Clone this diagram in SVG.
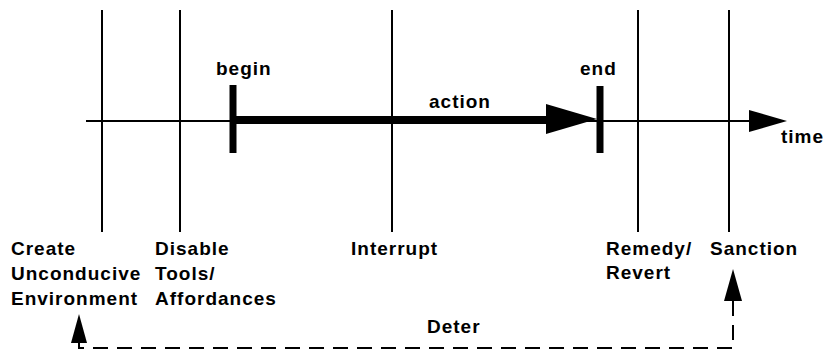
<svg xmlns="http://www.w3.org/2000/svg" width="825" height="351" viewBox="0 0 825 351">
<style>
.lbl{font-family:"Liberation Sans",Arial,sans-serif;font-weight:bold;font-size:19px;letter-spacing:1px;fill:#000}
.thin{stroke:#000;stroke-width:2;fill:none}
.dash{stroke:#000;stroke-width:2;fill:none;stroke-dasharray:15 9}
</style>
<rect width="825" height="351" fill="#fff"/>
<g id="connectors">
<line class="thin" x1="86" y1="121" x2="752" y2="121"/>
<polygon points="749,110 787,121 749,132" fill="#000"/>
<line class="thin" x1="102" y1="10" x2="102" y2="232"/>
<line class="thin" x1="180" y1="10" x2="180" y2="232"/>
<line class="thin" x1="392" y1="10" x2="392" y2="232"/>
<line class="thin" x1="638" y1="10" x2="638" y2="232"/>
<line class="thin" x1="729" y1="10" x2="729" y2="232"/>
<line x1="233" y1="120" x2="550" y2="120" stroke="#000" stroke-width="8"/>
<polygon points="546,104 597,119 546,134" fill="#000"/>
<line x1="233" y1="85" x2="233" y2="153" stroke="#000" stroke-width="7"/>
<line x1="600" y1="86" x2="600" y2="153" stroke="#000" stroke-width="7"/>
<path class="dash" d="M733,301 V348 H79"/>
<line class="thin" x1="79" y1="349" x2="79" y2="340"/>
<polygon points="71,343 79,314 87,343" fill="#000"/>
<polygon points="724,301 733,269 742,301" fill="#000"/>
</g>
<g id="begin"><text class="lbl" x="216" y="75">begin</text></g>
<g id="end"><text class="lbl" x="580" y="75">end</text></g>
<g id="action"><text class="lbl" x="429" y="108">action</text></g>
<g id="time"><text class="lbl" x="781" y="143">time</text></g>
<g id="create"><text class="lbl" x="11" y="255">Create</text><text class="lbl" x="11" y="280">Unconducive</text><text class="lbl" x="11" y="305">Environment</text></g>
<g id="disable"><text class="lbl" x="155" y="255">Disable</text><text class="lbl" x="155" y="280">Tools/</text><text class="lbl" x="155" y="305">Affordances</text></g>
<g id="interrupt"><text class="lbl" x="351" y="255">Interrupt</text></g>
<g id="remedy"><text class="lbl" x="606" y="255">Remedy/</text><text class="lbl" x="606" y="279">Revert</text></g>
<g id="sanction"><text class="lbl" x="710" y="255">Sanction</text></g>
<g id="deter"><text class="lbl" x="427" y="333">Deter</text></g>
</svg>
